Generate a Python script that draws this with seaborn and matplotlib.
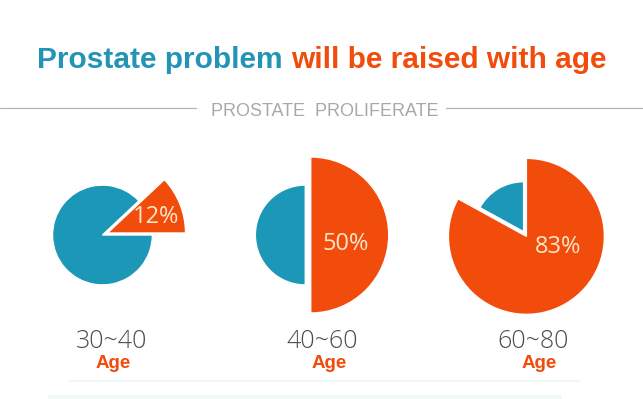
import matplotlib
matplotlib.use("Agg")
import matplotlib.pyplot as plt
import seaborn as sns

# data
age_groups = ["30~40", "40~60", "60~80"]
proliferate_pct = [12, 50, 83]
title_left = "Prostate problem "
title_right = "will be raised with age"
subtitle = "PROSTATE  PROLIFERATE"
age_word = "Age"

BLUE = "#1c97b8"
ORANGE = "#f14c0c"
TITLE_BLUE = "#2494b6"
CREAM = "#fbe7c8"
W, H = 643, 399

sns.set_theme(style="white")
plt.rcParams["font.family"] = ["Liberation Sans", "DejaVu Sans"]


def main():
    fig = plt.figure(figsize=(W / 100, H / 100), dpi=100)
    ax = fig.add_axes([0, 0, 1, 1])

    # pie layout in pixel units (y measured from the bottom)
    centers = [(105, H - 234), (308, H - 235), (525, H - 234)]
    start_angles = [43.2, 90, 90]
    label_offsets = [(51, 17), (38, -9), (33, -13)]
    range_x = [112, 322, 533]
    age_x = [113, 329, 539]
    outer_r = 78
    inner_ratio = 0.64

    for i, (pct, grp) in enumerate(zip(proliferate_pct, age_groups)):
        cx, cy = centers[i]
        dx, dy = label_offsets[i]
        wedges, _ = ax.pie(
            [pct, 100 - pct],
            colors=[ORANGE, BLUE],
            startangle=start_angles[i],
            counterclock=False,
            center=(cx, cy),
            radius=outer_r,
            explode=[0.035 * outer_r, 0.035 * outer_r],
            wedgeprops=dict(edgecolor="white", linewidth=1.0),
        )
        wedges[1].set_radius(outer_r * inner_ratio)
        ax.text(cx + dx, cy + dy, f"{pct}%", ha="center", va="center",
                fontsize=17, color=CREAM, family=["Open Sans", "DejaVu Sans"])
        ax.text(range_x[i], H - 348, grp, ha="center", va="baseline",
                fontsize=18, color="#4d4d4d", fontweight="light",
                family=["Open Sans", "DejaVu Sans"])
        ax.text(age_x[i], H - 368, age_word, ha="center", va="baseline",
                fontsize=13.5, color=ORANGE, fontweight="bold")

    # title in two colours
    t1 = ax.text(37, H - 68, title_left, ha="left", va="baseline",
                 fontsize=21.5, fontweight="bold", color=TITLE_BLUE)
    ax.annotate(title_right, xy=(1, 0), xycoords=t1, ha="left", va="bottom",
                fontsize=21.5, fontweight="bold", color=ORANGE)

    # separator with label
    ax.plot([0, 196], [H - 108, H - 108], color="#b5b5b5", lw=0.9)
    ax.plot([446, W], [H - 108, H - 108], color="#b5b5b5", lw=0.9)
    ax.text(325, H - 115.7, subtitle, ha="center", va="baseline",
            fontsize=13, color="#a8a8a8")

    # faint bands at the bottom
    ax.plot([70, 580], [H - 381, H - 381], color="#eef8f7", lw=1.5)
    ax.plot([50, 560], [H - 397, H - 397], color="#f0f8f8", lw=3)

    ax.set_xlim(0, W)
    ax.set_ylim(0, H)
    ax.set_aspect("auto")
    ax.axis("off")

    fig.savefig("out.png", dpi=100, facecolor="white")
    plt.close(fig)


if __name__ == "__main__":
    main()
